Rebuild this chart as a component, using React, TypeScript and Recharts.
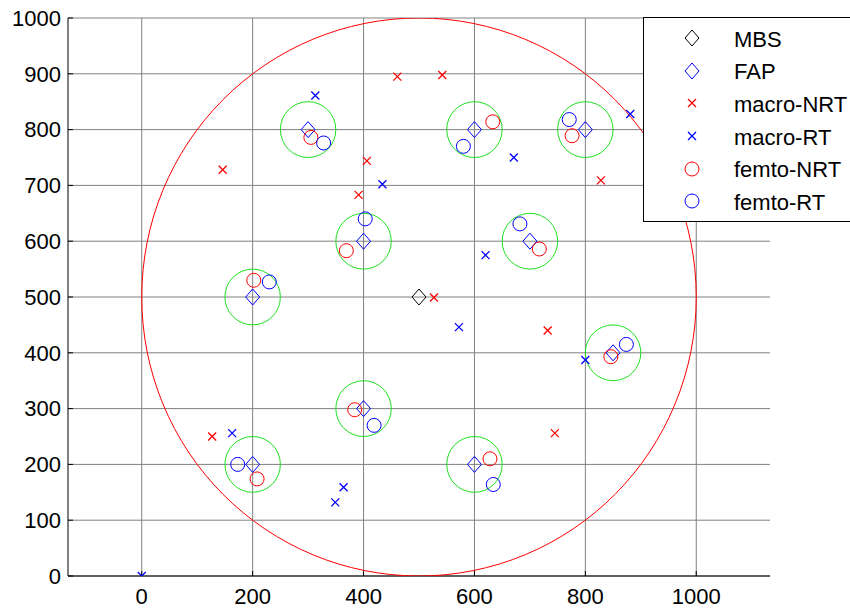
import { ScatterChart, Scatter, XAxis, YAxis, CartesianGrid, Legend } from 'recharts'

// base stations
const mbs = [{ x: 500, y: 500 }]
const fap = [
  { x: 300, y: 800 }, { x: 600, y: 800 }, { x: 800, y: 800 },
  { x: 400, y: 600 }, { x: 700, y: 600 }, { x: 200, y: 500 },
  { x: 850, y: 400 }, { x: 400, y: 300 }, { x: 200, y: 200 },
  { x: 600, y: 200 },
]

// users
const macroNrt = [
  { x: 461, y: 895 }, { x: 542, y: 898 }, { x: 146, y: 728 },
  { x: 406, y: 744 }, { x: 391, y: 683 }, { x: 828, y: 709 },
  { x: 527, y: 499 }, { x: 732, y: 440 }, { x: 127, y: 250 },
  { x: 745, y: 256 },
]
const macroRt = [
  { x: 313, y: 861 }, { x: 434, y: 702 }, { x: 671, y: 750 },
  { x: 881, y: 828 }, { x: 620, y: 575 }, { x: 572, y: 446 },
  { x: 800, y: 387 }, { x: 163, y: 256 }, { x: 364, y: 159 },
  { x: 349, y: 132 }, { x: 0, y: 0 },
]
const femtoNrt = [
  { x: 305, y: 786 }, { x: 633, y: 814 }, { x: 776, y: 789 },
  { x: 369, y: 583 }, { x: 202, y: 530 }, { x: 717, y: 586 },
  { x: 846, y: 393 }, { x: 384, y: 298 }, { x: 208, y: 174 },
  { x: 628, y: 210 },
]
const femtoRt = [
  { x: 328, y: 776 }, { x: 580, y: 770 }, { x: 771, y: 818 },
  { x: 403, y: 640 }, { x: 230, y: 527 }, { x: 682, y: 631 },
  { x: 874, y: 415 }, { x: 419, y: 270 }, { x: 173, y: 200 },
  { x: 634, y: 164 },
]

const macroRadius = 500
const femtoRadius = 50

const xTicks = [0, 200, 400, 600, 800, 1000]
const yTicks = [0, 100, 200, 300, 400, 500, 600, 700, 800, 900, 1000]
const legendNames = ['MBS', 'FAP', 'macro-NRT', 'macro-RT', 'femto-NRT', 'femto-RT']

const W = 850
const H = 611
const MARGIN = { top: 18, right: 80, bottom: 0, left: 0 }
const Y_AXIS_W = 68
const X_AXIS_H = 35
const X_DOMAIN: [number, number] = [-133, 1133]
const Y_DOMAIN: [number, number] = [0, 1000]
const plotW = W - MARGIN.left - MARGIN.right - Y_AXIS_W
const plotH = H - MARGIN.top - MARGIN.bottom - X_AXIS_H
const pxPerX = plotW / (X_DOMAIN[1] - X_DOMAIN[0])
const pxPerY = plotH / (Y_DOMAIN[1] - Y_DOMAIN[0])

const RED = '#ff0000'
const BLUE = '#0000ff'
const GREEN = '#1fe01f'
const FONT = '"Liberation Sans", Arial, sans-serif'

const ring = (radius: number, color: string) => (p: any) => (
  <ellipse cx={p.cx} cy={p.cy} rx={radius * pxPerX} ry={radius * pxPerY}
    fill="none" stroke={color} strokeWidth={1} />
)

function Marker({ kind, color, cx, cy }: { kind: string; color: string; cx: number; cy: number }) {
  if (kind === 'diamond') {
    return <path d={`M${cx - 7},${cy}L${cx},${cy - 8}L${cx + 7},${cy}L${cx},${cy + 8}Z`}
      fill="none" stroke={color} strokeWidth={1} />
  }
  if (kind === 'cross') {
    return <path d={`M${cx - 4},${cy - 4}L${cx + 4},${cy + 4}M${cx - 4},${cy + 4}L${cx + 4},${cy - 4}`}
      fill="none" stroke={color} strokeWidth={1.3} />
  }
  return <circle cx={cx} cy={cy} r={7} fill="none" stroke={color} strokeWidth={1} />
}

const shape = (kind: string, color: string) => (p: any) => (
  <Marker kind={kind} color={color} cx={p.cx} cy={p.cy} />
)

const legendStyles = [
  { kind: 'diamond', color: '#000000' },
  { kind: 'diamond', color: BLUE },
  { kind: 'cross', color: RED },
  { kind: 'cross', color: BLUE },
  { kind: 'circle', color: RED },
  { kind: 'circle', color: BLUE },
]

const LegendBox = () => (
  <div style={{
    width: 207, height: 205, boxSizing: 'border-box', background: '#fff',
    borderTop: '1px solid #000', borderLeft: '1px solid #000', borderBottom: '1px solid #000',
    padding: '4px 0', fontFamily: FONT, fontSize: 22, color: '#000',
  }}>
    {legendNames.map((name, i) => (
      <div key={name} style={{ height: 32.6, display: 'flex', alignItems: 'center' }}>
        <svg width={90} height={32} style={{ flex: 'none' }}>
          <Marker kind={legendStyles[i].kind} color={legendStyles[i].color} cx={48} cy={16} />
        </svg>
        <span style={{ lineHeight: '32px', paddingTop: 3 }}>{name}</span>
      </div>
    ))}
  </div>
)

const tickStyle = { fill: '#000', fontSize: 22, fontFamily: FONT }

export default function App() {
  return (
    <div style={{ position: 'absolute', left: 0, top: 0, width: W, height: H, overflow: 'hidden', background: '#fff' }}>
      <ScatterChart width={W} height={H} margin={MARGIN}>
        <CartesianGrid stroke="#808080" strokeWidth={1} syncWithTicks />
        <XAxis type="number" dataKey="x" domain={X_DOMAIN} ticks={xTicks} allowDataOverflow
          height={X_AXIS_H} tick={tickStyle} tickSize={-5} tickMargin={17}
          axisLine={{ stroke: '#000' }} tickLine={{ stroke: '#000' }} />
        <XAxis xAxisId="top" orientation="top" type="number" domain={X_DOMAIN} ticks={xTicks}
          allowDataOverflow height={0} tickFormatter={() => ''} tickSize={-5}
          axisLine={false} tickLine={{ stroke: '#000' }} />
        <YAxis type="number" dataKey="y" domain={Y_DOMAIN} ticks={yTicks} allowDataOverflow
          width={Y_AXIS_W} tick={tickStyle} tickSize={-5} tickMargin={12}
          axisLine={{ stroke: '#000' }} tickLine={{ stroke: '#000' }} />
        <YAxis yAxisId="right" orientation="right" type="number" domain={Y_DOMAIN} ticks={yTicks}
          allowDataOverflow width={0} tickFormatter={() => ''} tickSize={-5}
          axisLine={false} tickLine={{ stroke: '#000' }} />
        <Scatter data={mbs} shape={ring(macroRadius, RED)} isAnimationActive={false} />
        <Scatter data={fap} shape={ring(femtoRadius, GREEN)} isAnimationActive={false} />
        <Scatter name="MBS" data={mbs} shape={shape('diamond', '#000000')} isAnimationActive={false} />
        <Scatter name="FAP" data={fap} shape={shape('diamond', BLUE)} isAnimationActive={false} />
        <Scatter name="macro-NRT" data={macroNrt} shape={shape('cross', RED)} isAnimationActive={false} />
        <Scatter name="macro-RT" data={macroRt} shape={shape('cross', BLUE)} isAnimationActive={false} />
        <Scatter name="femto-NRT" data={femtoNrt} shape={shape('circle', RED)} isAnimationActive={false} />
        <Scatter name="femto-RT" data={femtoRt} shape={shape('circle', BLUE)} isAnimationActive={false} />
        <Legend layout="vertical" align="center" verticalAlign="middle" content={<LegendBox />}
          wrapperStyle={{ left: 643, top: 17, width: 207, height: 205 }} />
      </ScatterChart>
    </div>
  )
}
